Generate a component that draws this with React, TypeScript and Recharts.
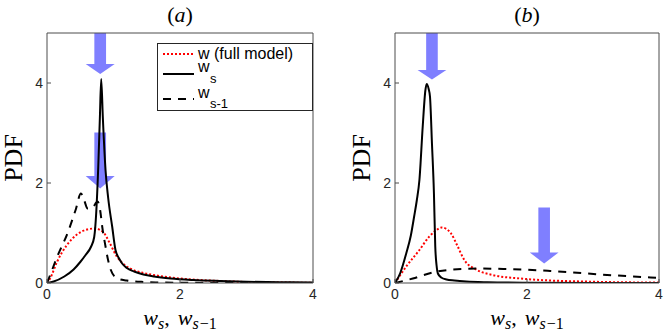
import React from 'react';
import { LineChart, Line, XAxis, YAxis, ReferenceArea, Legend } from 'recharts';

const xTicks = [0, 2, 4];
const yTicks = [0, 2, 4];

// panel (a)
const aFullX = [0, 0.05, 0.15, 0.3, 0.45, 0.6, 0.72, 0.85, 0.95, 1.05, 1.15, 1.3, 1.45, 1.6, 1.8, 2.0, 2.3, 2.6, 3.0, 3.5, 4.0];
const aFullY = [0, 0.1, 0.42, 0.76, 0.97, 1.07, 1.09, 1.01, 0.78, 0.53, 0.38, 0.26, 0.2, 0.16, 0.12, 0.09, 0.06, 0.04, 0.02, 0.01, 0.005];
const aWsX = [0, 0.1, 0.26, 0.4, 0.5, 0.58, 0.66, 0.71, 0.74, 0.77, 0.795, 0.815, 0.84, 0.88, 0.92, 0.98, 1.03, 1.08, 1.13, 1.2, 1.31, 1.45, 1.61, 1.86, 2.2, 2.6, 3.0, 3.5, 4.0];
const aWsY = [0, 0.03, 0.13, 0.27, 0.42, 0.56, 0.72, 0.92, 1.4, 2.3, 3.3, 4.08, 3.3, 2.26, 1.7, 1.13, 0.66, 0.5, 0.39, 0.3, 0.23, 0.17, 0.13, 0.09, 0.06, 0.04, 0.025, 0.015, 0.01];
const aWs1X = [0, 0.03, 0.155, 0.31, 0.43, 0.51, 0.56, 0.61, 0.68, 0.76, 0.8, 0.83, 0.88, 0.92, 0.96, 1.01, 1.06, 1.2, 1.45, 1.7, 2.0, 3.0, 4.0];
const aWs1Y = [0, 0.1, 0.53, 1.0, 1.46, 1.79, 1.65, 1.49, 1.5, 1.63, 1.45, 1.13, 0.73, 0.45, 0.26, 0.14, 0.09, 0.05, 0.02, 0.01, 0.005, 0, 0];

// panel (b)
const bFullX = [0, 0.17, 0.37, 0.52, 0.62, 0.71, 0.78, 0.85, 0.95, 1.05, 1.23, 1.48, 1.9, 2.35, 2.85, 3.4, 4];
const bFullY = [0, 0.33, 0.66, 0.93, 1.05, 1.11, 1.08, 0.99, 0.73, 0.46, 0.27, 0.16, 0.09, 0.05, 0.03, 0.015, 0.01];
const bWsX = [0, 0.08, 0.17, 0.24, 0.29, 0.33, 0.37, 0.42, 0.46, 0.48, 0.51, 0.53, 0.56, 0.59, 0.61, 0.63, 0.65, 0.7, 0.78, 0.9, 1.08, 1.4, 2, 3, 4];
const bWsY = [0, 0.2, 0.59, 0.95, 1.33, 1.65, 2.06, 3.13, 3.85, 3.98, 3.88, 3.73, 2.79, 1.79, 0.73, 0.35, 0.19, 0.11, 0.07, 0.05, 0.03, 0.015, 0.005, 0, 0];
const bWs1X = [0, 0.27, 0.57, 0.88, 1.28, 1.64, 1.92, 2.35, 2.7, 3.11, 3.5, 3.87, 4];
const bWs1Y = [0, 0.09, 0.21, 0.27, 0.29, 0.28, 0.27, 0.24, 0.21, 0.17, 0.14, 0.11, 0.1];

// arrows: centre x, top of shaft, start of head, tip (data units)
type Arrow = { x: number; top: number; neck: number; tip: number };
const aArrows: Arrow[] = [
  { x: 0.8, top: 5, neck: 4.38, tip: 4.18 },
  { x: 0.8, top: 3.01, neck: 2.14, tip: 1.89 },
];
const bArrows: Arrow[] = [
  { x: 0.56, top: 5, neck: 4.26, tip: 4.07 },
  { x: 2.26, top: 1.51, neck: 0.61, tip: 0.39 },
];
const SHAFT = 0.088;
const HEAD = 0.218;

const toPts = (xs: number[], ys: number[]) => xs.map((x, i) => ({ x, y: ys[i] }));

const AXIS = '#4d4d4d';
const SANS = '"Liberation Sans", Arial, Helvetica, sans-serif';
const SERIF = '"Liberation Serif", "Times New Roman", serif';

function arrowShape(a: Arrow) {
  return (p: any) => {
    const { x, y, width, height } = p;
    const cx = x + width / 2;
    const sw = (width * SHAFT) / HEAD / 2;
    const ny = y + (height * (a.top - a.neck)) / (a.top - a.tip);
    const pts = [
      [cx - sw, y], [cx + sw, y], [cx + sw, ny], [x + width, ny],
      [cx, y + height], [x, ny], [cx - sw, ny],
    ];
    return <polygon points={pts.map((q) => q.join(',')).join(' ')} fill="#0000ff" fillOpacity={0.5} stroke="none" />;
  };
}

function TitleLabel({ viewBox, letter }: any) {
  const cx = viewBox.x + viewBox.width / 2;
  return (
    <text x={cx} y={22} textAnchor="middle" fontFamily={SERIF} fontSize={22} fill="#000">
      (<tspan fontStyle="italic">{letter}</tspan>)
    </text>
  );
}

function XLabel({ viewBox }: any) {
  const cx = viewBox.x + viewBox.width / 2;
  return (
    <text x={cx} y={325} textAnchor="middle" fontFamily={SERIF} fontSize={22} fill="#000">
      <tspan fontStyle="italic">w</tspan>
      <tspan fontStyle="italic" fontSize={16} dy={4}>s</tspan>
      <tspan dy={-4}>,</tspan>
      <tspan fontStyle="italic" dx={8}>w</tspan>
      <tspan fontSize={16} dy={4}>
        <tspan fontStyle="italic">s</tspan>
        <tspan dx={1}>−1</tspan>
      </tspan>
    </text>
  );
}

function YLabel({ viewBox }: any) {
  const bx = viewBox.x + viewBox.width - 25;
  const cy = viewBox.y + viewBox.height / 2;
  return (
    <text x={bx} y={cy} transform={`rotate(-90 ${bx} ${cy})`} textAnchor="middle" fontFamily={SERIF} fontSize={26} fill="#000">
      PDF
    </text>
  );
}

function LegendBox() {
  return (
    <svg width={156} height={68} style={{ display: 'block' }}>
      <rect x={0.5} y={0.5} width={155} height={67} fill="#fff" stroke="#262626" />
      <line x1={6} x2={37} y1={11} y2={11} stroke="#ff0000" strokeWidth={2} strokeDasharray="2 2" />
      <text x={41} y={16.3} fontFamily={SANS} fontSize={16} fill="#000">w (full model)</text>
      <line x1={6} x2={37} y1={31} y2={31} stroke="#000" strokeWidth={2} />
      <text x={41} y={28.7} fontFamily={SANS} fontSize={16} fill="#000">w</text>
      <text x={53} y={40.3} fontFamily={SANS} fontSize={13} fill="#000">s</text>
      <line x1={6} x2={37} y1={56} y2={56} stroke="#000" strokeWidth={2} strokeDasharray="8 7" />
      <text x={41} y={54.7} fontFamily={SANS} fontSize={16} fill="#000">w</text>
      <text x={53} y={65.3} fontFamily={SANS} fontSize={13} fill="#000">s-1</text>
    </svg>
  );
}

function Panel({ left, ml, mr, letter, full, ws, ws1, arrows, legend }: any) {
  const tick = { fill: '#262626', fontSize: 14, fontFamily: SANS };
  return (
    <div style={{ position: 'absolute', left, top: 0 }}>
      <LineChart width={332} height={333} margin={{ top: 32, right: mr - 1, bottom: 20, left: ml }}>
        <XAxis dataKey="x" type="number" domain={[0, 4]} ticks={xTicks} height={30} allowDataOverflow
          tickSize={-4} tickMargin={10} tick={tick} stroke={AXIS} label={<XLabel />} />
        <XAxis xAxisId="top" orientation="top" type="number" domain={[0, 4]} ticks={xTicks} height={1}
          tick={false} tickSize={-4} stroke={AXIS} label={<TitleLabel letter={letter} />} />
        <YAxis type="number" domain={[0, 5]} ticks={yTicks} width={30} allowDataOverflow
          tickSize={-4} tickMargin={8} tick={tick} stroke={AXIS} label={<YLabel />} />
        <YAxis yAxisId="right" orientation="right" type="number" domain={[0, 5]} ticks={yTicks} width={1}
          tick={false} tickSize={-4} stroke={AXIS} />
        <Line data={toPts(full[0], full[1])} dataKey="y" type="monotone" stroke="#ff0000" strokeWidth={2}
          strokeDasharray="2 2" dot={false} isAnimationActive={false} />
        <Line data={toPts(ws1[0], ws1[1])} dataKey="y" type="monotone" stroke="#000" strokeWidth={2}
          strokeDasharray="8 7" dot={false} isAnimationActive={false} />
        <Line data={toPts(ws[0], ws[1])} dataKey="y" type="monotone" stroke="#000" strokeWidth={2}
          dot={false} isAnimationActive={false} />
        {arrows.map((a: Arrow, i: number) => (
          <ReferenceArea key={i} x1={a.x - HEAD} x2={a.x + HEAD} y1={a.tip} y2={a.top}
            shape={arrowShape(a)} />
        ))}
        {legend && (
          <Legend layout="horizontal" verticalAlign="middle" align="center" content={<LegendBox />}
            wrapperStyle={{ position: 'absolute', top: 43, left: 157, width: 156, height: 68 }} />
        )}
      </LineChart>
    </div>
  );
}

export default function App() {
  return (
    <div style={{ position: 'absolute', left: 0, top: 0, width: 664, height: 333, background: '#fff' }}>
      <Panel left={0} ml={17} mr={19} letter="a" full={[aFullX, aFullY]} ws={[aWsX, aWsY]}
        ws1={[aWs1X, aWs1Y]} arrows={aArrows} legend />
      <Panel left={332} ml={33} mr={5} letter="b" full={[bFullX, bFullY]} ws={[bWsX, bWsY]}
        ws1={[bWs1X, bWs1Y]} arrows={bArrows} legend={false} />
    </div>
  );
}
